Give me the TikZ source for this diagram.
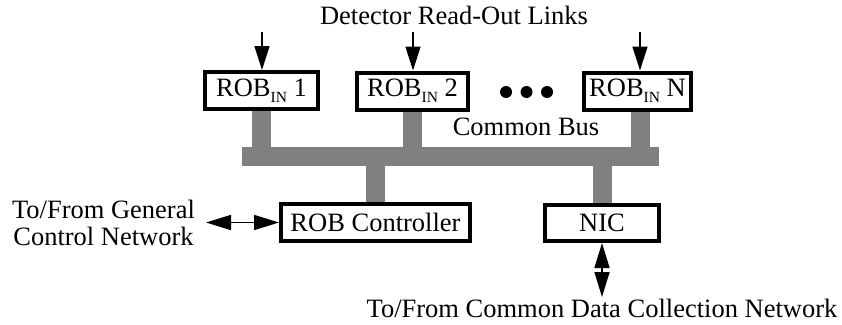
\documentclass[tikz,border=0pt]{standalone}
\usepackage{fontspec}
\setmainfont{Liberation Serif}
\usetikzlibrary{arrows.meta,backgrounds}
\newcommand\myrobin[1]{ROB\raisebox{-6pt}{\fontsize{15.5pt}{16pt}\selectfont IN}\ #1}
\definecolor{busgray}{HTML}{808080}
\tikzset{
  box/.style={draw, line width=4pt, fill=white, inner sep=0pt, minimum height=37pt},
  lbl/.style={inner sep=0pt, anchor=base},
  dot/.style={circle, fill=black, inner sep=0pt, minimum size=12pt},
  stub/.style={draw=busgray, line width=19pt},
  inarrow/.style={line width=1.5pt, -{Triangle[length=24pt,width=15pt]}},
  biarrow/.style={line width=1.5pt, {Triangle[length=25pt,width=15pt]}-{Triangle[length=25pt,width=15pt]}}
}
\begin{document}
\begin{tikzpicture}[x=1pt, y=-1pt, font=\fontsize{26.5pt}{30pt}\selectfont]
\useasboundingbox (0,0) rectangle (842,324);
% title
\node[lbl] (title) at (454,24) {Detector Read-Out Links};
% ROB_IN boxes
\node[box, minimum width=113pt] (rob1) at (261.5,90.5) {\myrobin{1}};
\node[box, minimum width=111pt] (rob2) at (412.5,91) {\myrobin{2}};
\node[box, minimum width=107pt] (robN) at (637.5,91) {\myrobin{N}};
% dots
\node[dot] (d1) at (506,92) {};
\node[dot] (d2) at (526.5,92) {};
\node[dot] (d3) at (547,92) {};
% input arrows
\coordinate (in1) at (262,32);
\coordinate (in2) at (413,32);
\coordinate (inN) at (640,32);
\draw[inarrow] (in1) -- (in1 |- rob1.north);
\draw[inarrow] (in2) -- (in2 |- rob2.north);
\draw[inarrow] (inN) -- (inN |- robN.north);
% bus
\node[fill=busgray, inner sep=0pt, minimum width=417pt, minimum height=19pt] (bus) at (450.5,156.5) {};
\node[lbl] (buslbl) at (526,135) {Common Bus};
% lower boxes
\node[box, minimum width=189pt] (ctl) at (375.5,222.5) {ROB Controller};
\node[box, minimum width=114pt, minimum height=36pt] (nic) at (602,223) {NIC};
% stubs
\begin{scope}[on background layer]
\draw[stub] (rob1.south) -- (rob1.south |- bus.center);
\draw[stub] (rob2.south) -- (rob2.south |- bus.center);
\draw[stub] ([xshift=3pt]robN.south) -- ([xshift=3pt]robN.south |- bus.center);
\draw[stub] (ctl.north) -- (ctl.north |- bus.center);
\draw[stub] (nic.north) -- (nic.north |- bus.center);
\end{scope}
% left text and arrow
\node[lbl] (gen1) at (103.5,218) {To/From General};
\node[lbl] (gen2) at (103.5,245) {Control Network};
\coordinate (genend) at (206,222.5);
\draw[biarrow] (genend) -- (ctl.west);
% bottom text and arrow
\node[lbl] (dcn) at (602,317) {To/From Common Data Collection Network};
\coordinate (dcnend) at (602,297);
\draw[biarrow] (nic.south) -- (dcnend);
\end{tikzpicture}
\end{document}
